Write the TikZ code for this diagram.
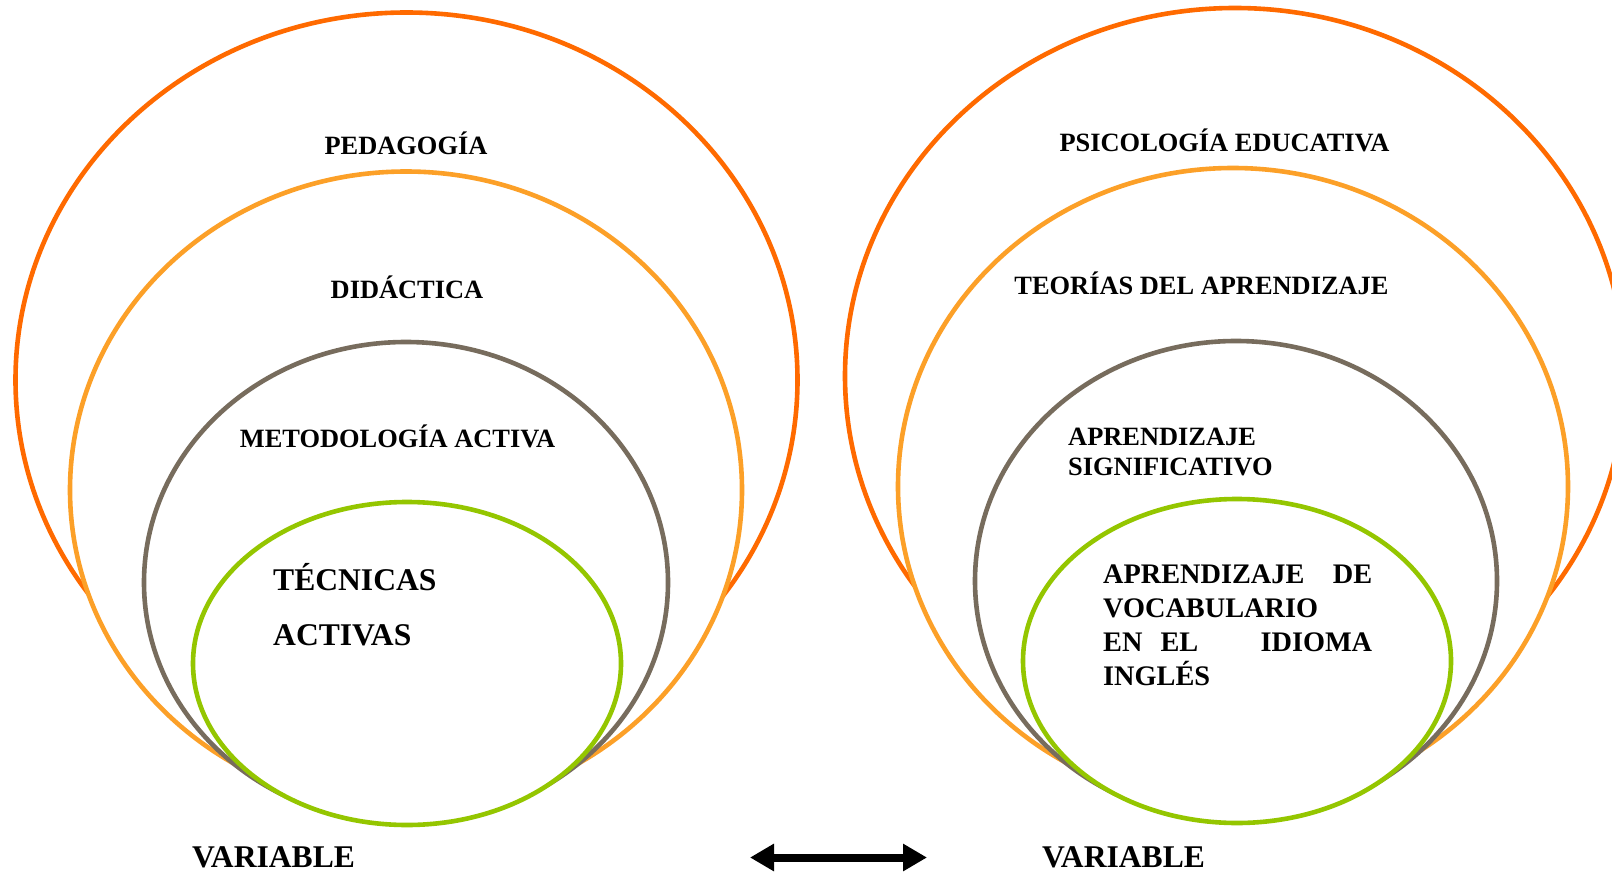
\documentclass[tikz,border=0pt]{standalone}
\usepackage{fontspec}
\setmainfont{Liberation Serif}
\usetikzlibrary{arrows.meta}
\definecolor{outerc}{RGB}{255,106,0}
\definecolor{orangec}{RGB}{252,160,40}
\definecolor{grayc}{RGB}{119,108,93}
\definecolor{greenc}{RGB}{148,198,0}
\tikzset{
  ring/.style={line width=4.6pt, fill=white},
  small/.style={inner sep=0pt, font=\fontsize{26.4pt}{30pt}\selectfont\bfseries},
  big/.style={inner sep=0pt, font=\fontsize{31.6pt}{38pt}\selectfont\bfseries},
  mid/.style={inner sep=0pt, font=\fontsize{28.3pt}{34pt}\selectfont\bfseries},
  link/.style={line width=8pt, {Triangle[length=24pt,width=26pt]}-{Triangle[length=24pt,width=26pt]}}
}
\begin{document}
\begin{tikzpicture}[x=1pt,y=-1pt]
\useasboundingbox (0,0) rectangle (1612,872);
\clip (0,0) rectangle (1612,872);
\fill[white] (0,0) rectangle (1612,872);
% left group
\draw[ring, draw=outerc]  (406.5,380)   ellipse [x radius=391, y radius=367.5];
\draw[ring, draw=orangec] (406,490)     ellipse [x radius=336, y radius=318.5];
\draw[ring, draw=grayc]   (406,582.5)   ellipse [x radius=262, y radius=240.5];
\draw[ring, draw=greenc]  (407,663.5)   ellipse [x radius=214, y radius=161.5];
% right group
\draw[ring, draw=outerc]  (1235,376)    ellipse [x radius=390, y radius=368];
\draw[ring, draw=orangec] (1233,486.5)  ellipse [x radius=335, y radius=318.5];
\draw[ring, draw=grayc]   (1236,581)    ellipse [x radius=261, y radius=240];
\draw[ring, draw=greenc]  (1237,661)    ellipse [x radius=214, y radius=162];
% left texts
\node[small, anchor=base] (ped) at (406,154) {PEDAGOGÍA};
\node[small, anchor=base] (did) at (407,298) {DIDÁCTICA};
\node[small, anchor=base] (met) at (397.5,447) {METODOLOGÍA ACTIVA};
\node[big, anchor=base west] (tec) at (273,590) {\parbox[t]{200pt}{\fontsize{31.6pt}{55pt}\selectfont\bfseries TÉCNICAS\\ACTIVAS}};
\node[big, anchor=base west] (varl) at (192,867) {VARIABLE};
% right texts
\node[small, anchor=base] (psi) at (1224.5,152) {PSICOLOGÍA EDUCATIVA};
\node[small, anchor=base] (teo) at (1201.5,294) {TEORÍAS DEL APRENDIZAJE};
\node[small, anchor=base west] (sig) at (1068,445) {\parbox[t]{260pt}{\fontsize{26.4pt}{30pt}\selectfont\bfseries APRENDIZAJE\\SIGNIFICATIVO}};
\node[mid, anchor=base west] (voc) at (1103,583) {\parbox[t]{269pt}{\fontsize{28.3pt}{34pt}\selectfont\bfseries
  \hbox to 269pt{APRENDIZAJE\hfill DE}
  \hbox{VOCABULARIO}
  \hbox to 269pt{EN\hspace{18pt}EL\hfill IDIOMA}
  \hbox{INGLÉS}}};
\node[big, anchor=base west] (varr) at (1042,867) {VARIABLE};
% arrow
\coordinate (al) at (750,857.5);
\coordinate (ar) at (927,857.5);
\draw[link] (al) -- (ar);
\end{tikzpicture}
\end{document}
